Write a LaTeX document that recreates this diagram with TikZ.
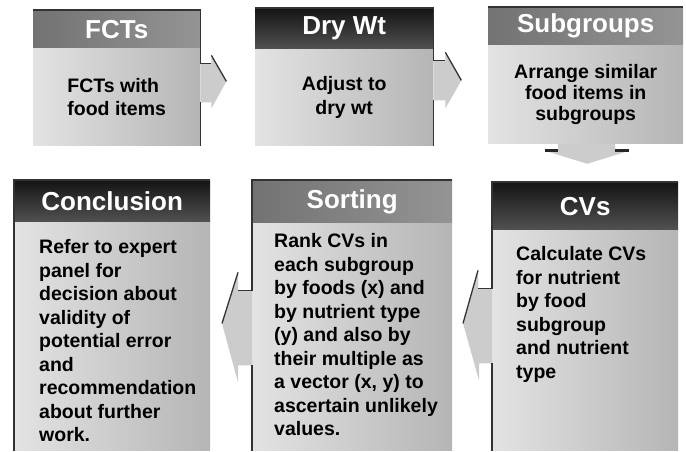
\documentclass[tikz,border=0pt]{standalone}
\usepackage{fontspec}
\setmainfont{Liberation Sans}
\usepackage{tikz}
\usetikzlibrary{positioning}

\tikzset{
  box/.style={rectangle,inner sep=0pt,anchor=north west},
  head/.style={box,left color=black!55,right color=black!42,text=white,font=\fontsize{26}{30}\selectfont\bfseries},
  headk/.style={box,top color=black!92,bottom color=black!68,text=white,font=\fontsize{26}{30}\selectfont\bfseries},
  body/.style={box,left color=black!11,right color=black!29,font=\fontsize{19.5}{23.5}\selectfont\bfseries,align=center},
  txt/.style={inner sep=0pt,align=left,font=\fontsize{19.5}{23.5}\selectfont\bfseries},
  arr/.style={fill=black!20},
  rim/.style={draw=black!80,line width=1.3pt},
  notchline/.style={draw=black!85,line width=3pt}
}

\begin{document}
\begin{tikzpicture}[x=1pt,y=-1pt]
\useasboundingbox (0,0) rectangle (686,451);

\node[head,minimum width=167,minimum height=38] (hA) at (33,10) {FCTs};
\node[body,minimum width=167,minimum height=97,align=left] (bA) [below=0pt of hA] {FCTs with\\food items};
\node[headk,minimum width=178,minimum height=41] (hB) at (255,8) {Dry Wt};
\node[body,minimum width=178,minimum height=96] (bB) [below=0pt of hB] {Adjust to\\dry wt};
\node[head,minimum width=195,minimum height=38] (hC) at (488,7) {Subgroups};
\node[body,minimum width=195,minimum height=98,font=\fontsize{19.5}{21}\selectfont\bfseries] (bC) [below=0pt of hC] {Arrange similar\\food items in\\subgroups};

\node[headk,minimum width=196,minimum height=42] (hF) at (14,180) {Conclusion};
\node[body,minimum width=196,minimum height=228] (bF) [below=0pt of hF] {};
\node[txt] (tF) [below right=17pt and 25pt of hF.south west] {Refer to expert\\panel for\\decision about\\validity of\\potential error\\and\\recommendation\\about further\\work.};
\node[head,minimum width=200,minimum height=43] (hE) at (252,180) {Sorting};
\node[body,minimum width=200,minimum height=227] (bE) [below=0pt of hE] {};
\node[txt] (tE) [below right=10pt and 22pt of hE.south west] {Rank CVs in\\each subgroup\\by foods (x) and\\by nutrient type\\(y) and also by\\their multiple as\\a vector (x, y) to\\ascertain unlikely\\values.};
\node[headk,minimum width=186,minimum height=48] (hD) at (492,182) {CVs};
\node[body,minimum width=186,minimum height=220] (bD) [below=0pt of hD] {};
\node[txt] (tD) [below right=16pt and 24pt of hD.south west] {Calculate CVs\\for nutrient\\by food\\subgroup\\and nutrient\\type};

\fill[arr] ([yshift=-15pt]bA.north east) coordinate (nA) -- ++(11,0) coordinate (cA) -- ++(0,-8) coordinate (uA) -- ++(15,26) coordinate (pA) -- ++(-15,27) -- ++(0,-6) -- ++(-11,0) coordinate (mA) -- cycle;
\fill[arr] ([yshift=-11pt]bB.north east) coordinate (nB) -- ++(12,0) coordinate (cB) -- ++(0,-8) coordinate (uB) -- ++(16,28) coordinate (pB) -- ++(-16,28) -- ++(0,-8) -- ++(-12,0) coordinate (mB) -- cycle;
\fill[arr] ([xshift=-27.5pt]bC.south) -- ++(0,7) coordinate (cC) -- ++(-13,0) coordinate (uC) -- ++(42,13) -- ++(42,-13) coordinate (vC) -- ++(-14,0) coordinate (wC) -- ++(0,-7) -- cycle;
\fill[arr] ([yshift=-58pt]bD.north west) coordinate (nD) -- ++(-14,0) coordinate (cD) -- ++(0,-18) coordinate (uD) -- ++(-15,53) coordinate (pD) -- ++(16,57) -- ++(0,-17) -- ++(13,0) coordinate (mD) -- cycle;
\fill[arr] ([yshift=-67pt]bE.north west) coordinate (nE) -- ++(-14,0) coordinate (cE) -- ++(0,-18) coordinate (uE) -- ++(-16,51) coordinate (pE) -- ++(16,59) -- ++(0,-17) -- ++(14,0) coordinate (mE) -- cycle;

\draw[rim] (hA.north west) -- (hA.north east) -- (nA) -- (cA);
\draw[rim] (uA) -- (pA);
\draw[rim] (mA) -- (bA.south east);
\draw[rim] (hB.north west) -- (hB.north east) -- (nB) -- (cB);
\draw[rim] (uB) -- (pB);
\draw[rim] (mB) -- (bB.south east);
\draw[rim] (hC.north west) -- (hC.north east);
\draw[notchline] (uC) -- (cC);
\draw[notchline] (wC) -- (vC);
\draw[rim] (hF.north east) -- (hF.north west) -- (bF.south west);
\draw[rim] (hE.north east) -- (hE.north west) -- (nE) -- (cE);
\draw[rim] (uE) -- (pE);
\draw[rim] (mE) -- (bE.south west);
\draw[rim] (hD.north east) -- (hD.north west) -- (nD) -- (cD);
\draw[rim] (uD) -- (pD);
\draw[rim] (mD) -- (bD.south west);

\end{tikzpicture}
\end{document}
